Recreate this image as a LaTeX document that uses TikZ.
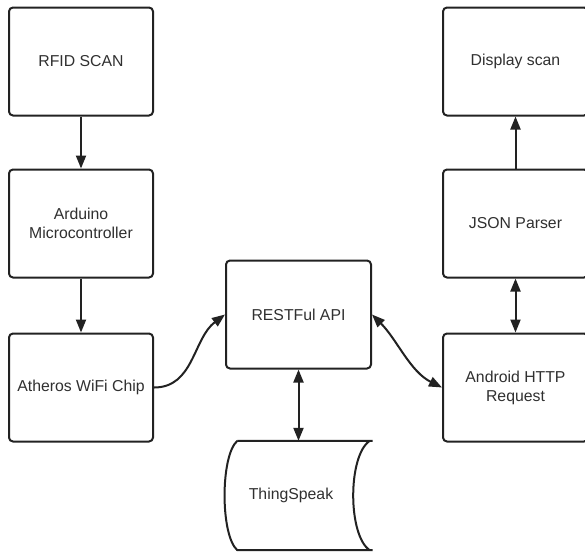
\documentclass[tikz,border=0pt]{standalone}
\usepackage{fontspec}
\setmainfont{Liberation Sans}
\usetikzlibrary{arrows.meta}
\definecolor{ln}{HTML}{222222}
\definecolor{tx}{HTML}{303030}
\begin{document}
\begin{tikzpicture}[x=1pt,y=-1pt,
  box/.style={draw=ln, line width=2pt, rounded corners=4pt, minimum width=144pt,
    minimum height=108pt, inner sep=0pt, align=center, text=tx,
    font=\fontsize{15.8}{19}\selectfont},
  conn/.style={draw=ln, line width=2pt, -{Triangle[length=13pt,width=10pt]}},
  bconn/.style={draw=ln, line width=2pt, {Triangle[length=13pt,width=10pt]}-{Triangle[length=13pt,width=10pt]}}]
\useasboundingbox (0,0) rectangle (585,552);
\fill[white] (0,0) rectangle (585,552);

\node[box] (rfid) at (81,61.5) {RFID SCAN};
\node[box] (ard)  at (81,223.5) {Arduino\\Microcontroller};
\node[box] (ath)  at (81,387.5) {Atheros WiFi Chip};
\node[box, minimum width=145pt] (rest) at (298.5,314.5) {RESTFul API};
\node[box, minimum width=145pt] (disp) at (515.5,61.5) {Display scan};
\node[box, minimum width=145pt] (json) at (515.5,223.5) {JSON Parser};
\node[box, minimum width=145pt] (andr) at (515.5,387.5) {Android HTTP\\Request};

% ThingSpeak stored-data shape
\node[minimum width=148pt, minimum height=109pt, inner sep=0pt] (ts) at (298.5,495.5) {};
\draw[draw=ln, line width=2pt, line join=round]
  (ts.north west) ++(13,0) coordinate (tsa) -- (ts.north east)
  (ts.north east) ++(-3,0) .. controls +(-22,15) and +(-22,-15) .. ([xshift=-3pt]ts.south east)
  (ts.south east) -- ([xshift=13pt]ts.south west)
  .. controls +(-17,-15) and +(-17,15) .. (tsa);
\node[text=tx, font=\fontsize{15.8}{19}\selectfont] (tslabel) at (291,495.5) {ThingSpeak};

\draw[conn] (rfid) -- (ard);
\draw[conn] (ard) -- (ath);
\draw[conn] (json) -- (disp);
\draw[bconn] (json) -- (andr);
\draw[bconn] (rest.south) -- (ts.north);
\draw[conn] (ath.east) .. controls +(40,0) and +(-32,24) .. (rest.west);
\draw[bconn] (rest.east) .. controls +(25,25) and +(-32,-16) .. (andr.west);
\end{tikzpicture}
\end{document}
